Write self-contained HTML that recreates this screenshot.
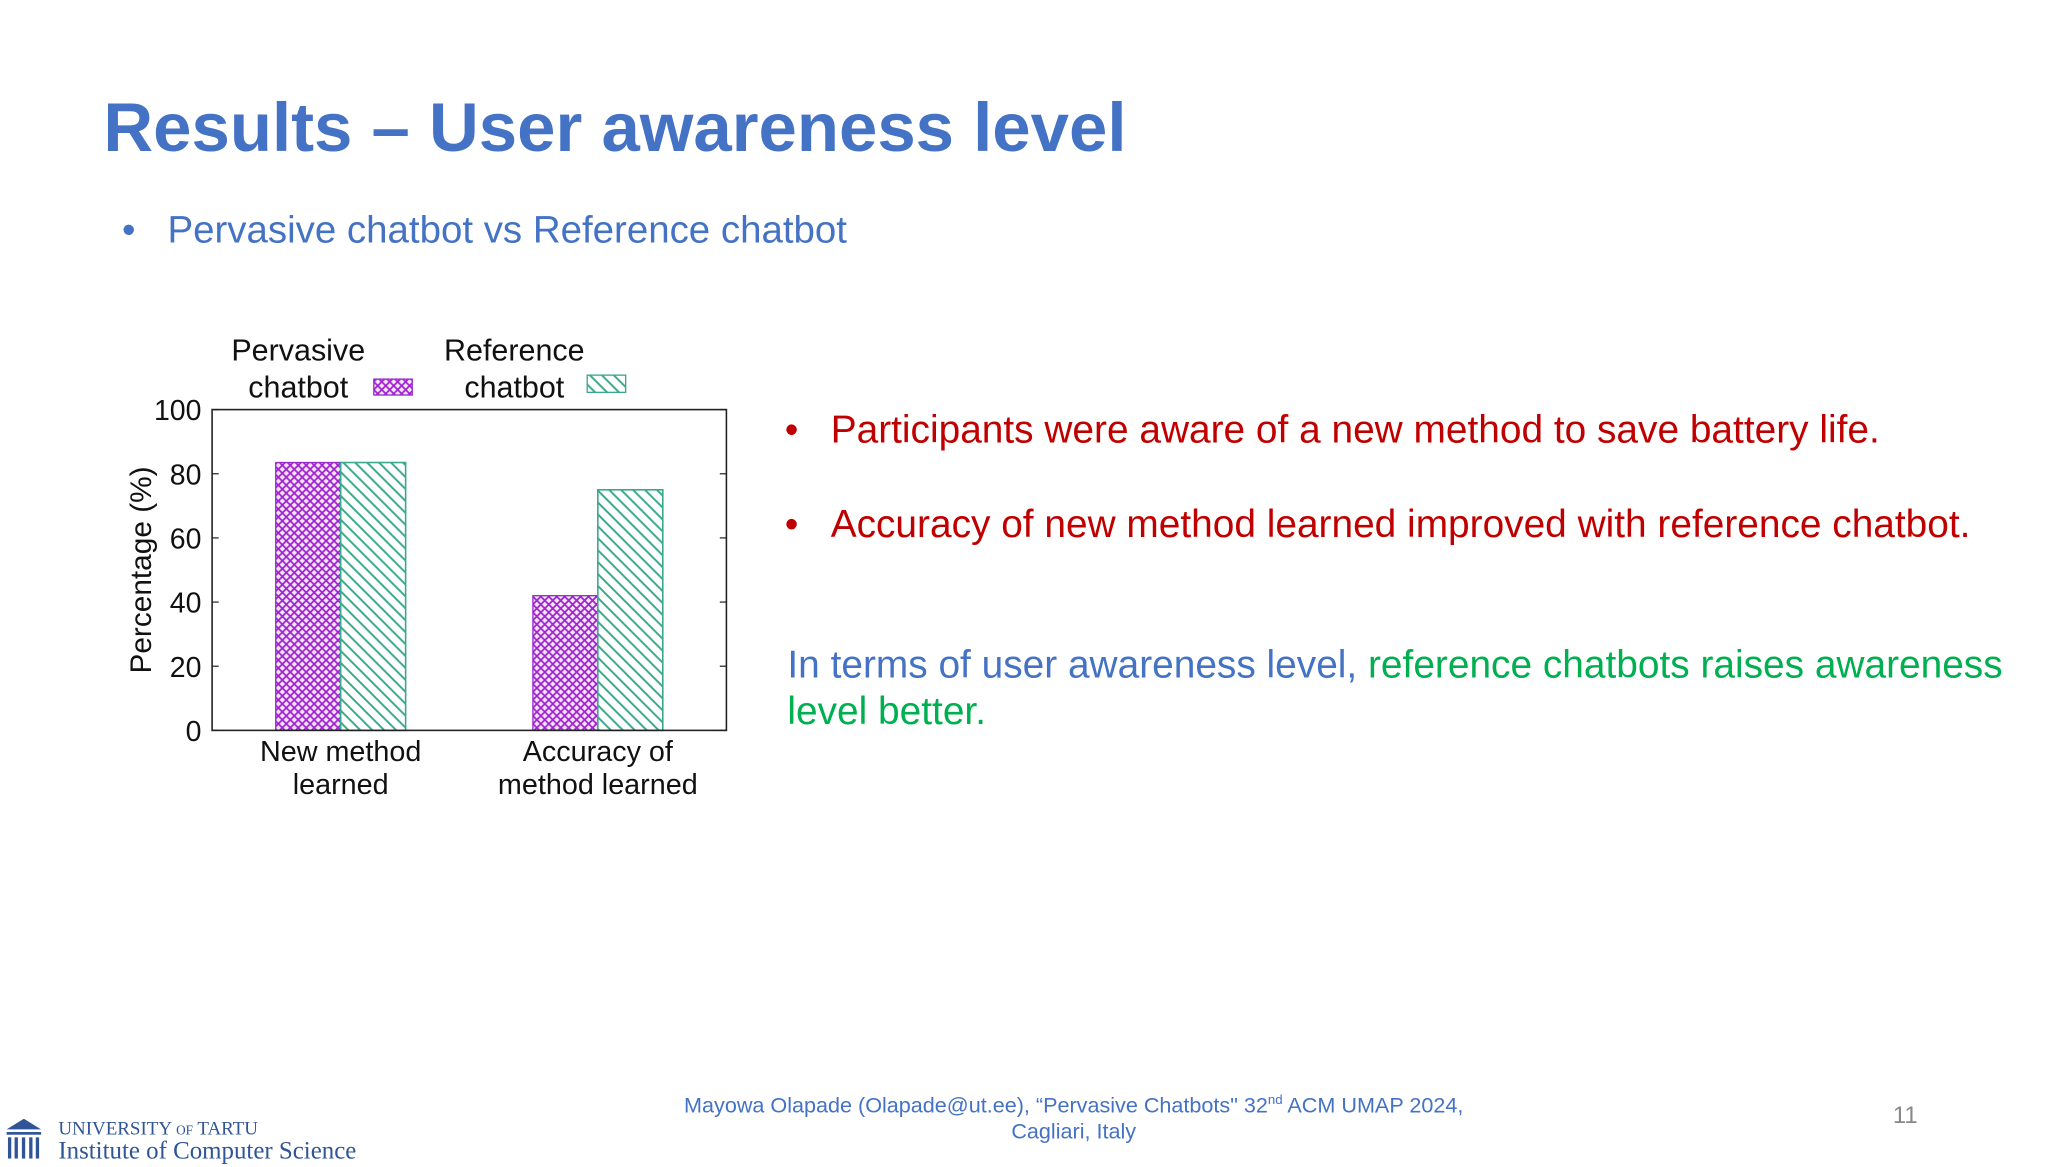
<!DOCTYPE html>
<html><head><meta charset="utf-8">
<style>
html,body{margin:0;padding:0;background:#fff;overflow:hidden}
#wrap{position:absolute;left:0;top:0;width:1545px;height:869px;transform:scale(1.325566);transform-origin:0 0;font-family:"Liberation Sans",sans-serif}
.abs{position:absolute;white-space:nowrap}
</style></head><body>
<div id="wrap">
<div class="abs" style="left:78px;top:67px;font-size:52px;font-weight:bold;color:#4472C4">Results – User awareness level</div>
<div class="abs" style="left:92px;top:158px;font-size:29px;color:#4472C4">•&nbsp;&nbsp;&nbsp;Pervasive chatbot vs Reference chatbot</div>

<svg id="chart" class="abs" style="left:0;top:240px" width="600" height="380" viewBox="0 240 600 380">
<defs>
<pattern id="cross" width="6" height="6" patternUnits="userSpaceOnUse">
<rect width="6" height="6" fill="#f6e6fb"/>
<path d="M0,0 L6,6 M6,0 L0,6" stroke="#a020d0" stroke-width="1.3"/>
</pattern>
<pattern id="diag" width="9" height="9" patternUnits="userSpaceOnUse">
<rect width="9" height="9" fill="#fff"/>
<path d="M-2,-2 L11,11 M-2,7 L2,11 M7,-2 L11,2" stroke="#3aa88a" stroke-width="1.5"/>
</pattern>
</defs>
<g id="g"></g>
</svg>

<div class="abs" style="left:592px;top:308px;font-size:29.3px;color:#C00000">•&nbsp;&nbsp;&nbsp;Participants were aware of a new method to save battery life.</div>
<div class="abs" style="left:592px;top:379px;font-size:29.3px;color:#C00000">•&nbsp;&nbsp;&nbsp;Accuracy of new method learned improved with reference chatbot.</div>
<div class="abs" style="left:594px;top:484px;font-size:29.3px;line-height:35px;white-space:normal;width:935px"><span style="color:#4472C4">In terms of user awareness level, </span><span style="color:#00B050">reference chatbots raises awareness level better.</span></div>

<div class="abs" style="left:460px;top:821px;width:700px;text-align:center;font-size:16.3px;line-height:20px;color:#4472C4;white-space:normal">Mayowa Olapade (Olapade@ut.ee), “Pervasive Chatbots" 32<sup style="font-size:10px">nd</sup> ACM UMAP 2024,<br>Cagliari, Italy</div>
<div class="abs" style="left:1428px;top:831px;font-size:18px;color:#888">11</div>

<svg class="abs" style="left:4px;top:844px" width="28" height="32" viewBox="0 0 28 32">
<polygon points="14,0 27,8 1,8" fill="#2f5597"/>
<rect x="1" y="10" width="26" height="2" fill="#2f5597"/>
<g fill="#2f5597"><rect x="2" y="14" width="2.5" height="16"/><rect x="7" y="14" width="2.5" height="16"/><rect x="12.5" y="14" width="2.5" height="16"/><rect x="18" y="14" width="2.5" height="16"/><rect x="23" y="14" width="2.5" height="16"/></g>
</svg>
<div class="abs" style="left:44px;top:844px;font-family:'Liberation Serif',serif;font-size:14.3px;color:#2f5597">UNIVERSITY <span style="font-size:10px">OF</span> TARTU</div>
<div class="abs" style="left:44px;top:858px;font-family:'Liberation Serif',serif;font-size:18.8px;color:#2f5597">Institute of Computer Science</div>
</div>

<script>
const categories = [["New method","learned"],["Accuracy of","method learned"]];
const pervasiveValues = [83.5, 42];
const referenceValues = [83.5, 75];
const yTicks = [0,20,40,60,80,100];

const NS="http://www.w3.org/2000/svg";
const g=document.getElementById('g');
const L=160,R=548,T=309,B=551;
const y=v=>B-(v/100)*(B-T);
const groupW=(R-L)/categories.length;
const x=i=>L+groupW*(i+0.5);
const barW=49;
function mk(t,a){const e=document.createElementNS(NS,t);for(const k in a)e.setAttribute(k,a[k]);g.appendChild(e);return e;}
function txt(s,a){const e=mk('text',Object.assign({'font-family':'Liberation Sans, sans-serif','font-size':21.7,fill:'#111'},a));e.textContent=s;return e;}

yTicks.forEach(v=>{
 const t=txt(String(v),{x:152,y:y(v)+8,'text-anchor':'end','font-size':21.5});
 
 
 const k=mk('line',{x1:L,x2:L+5,y1:y(v),y2:y(v),stroke:'#333'});
 
 
 const k2=mk('line',{x1:R-5,x2:R,y1:y(v),y2:y(v),stroke:'#333'});
 
 
});
categories.forEach((c,i)=>{
 const cx=x(i);
 const b1=mk('rect',{x:cx-barW,y:y(pervasiveValues[i]),width:barW,height:B-y(pervasiveValues[i]),fill:'url(#cross)',stroke:'#9a2ad0','stroke-width':1});
 
 
 const b2=mk('rect',{x:cx,y:y(referenceValues[i]),width:barW,height:B-y(referenceValues[i]),fill:'url(#diag)',stroke:'#3aa88a','stroke-width':1.2});
 
 
 c.forEach((s,j)=>{
  const t=txt(s,{x:cx,y:574+j*25,'text-anchor':'middle'});
  
  
 });
});
const frame=mk('rect',{x:L,y:T,width:R-L,height:B-T,fill:'none',stroke:'#222','stroke-width':1.2});


const yt=txt('Percentage (%)',{x:0,y:0,'text-anchor':'middle','font-size':22.5,transform:'translate(114,430) rotate(-90)'});


// legend
const l1=txt('Pervasive',{x:225,y:272,'text-anchor':'middle','font-size':23});


const l1b=txt('chatbot',{x:225,y:300,'text-anchor':'middle','font-size':23});


const s1=mk('rect',{x:282,y:286,width:29,height:12,fill:'url(#cross)',stroke:'#9a2ad0'});


const l2=txt('Reference',{x:388,y:272,'text-anchor':'middle','font-size':23});


const l2b=txt('chatbot',{x:388,y:300,'text-anchor':'middle','font-size':23});


const s2=mk('rect',{x:443,y:283,width:29,height:13,fill:'url(#diag)',stroke:'#3aa88a'});


</script>
</body></html>
